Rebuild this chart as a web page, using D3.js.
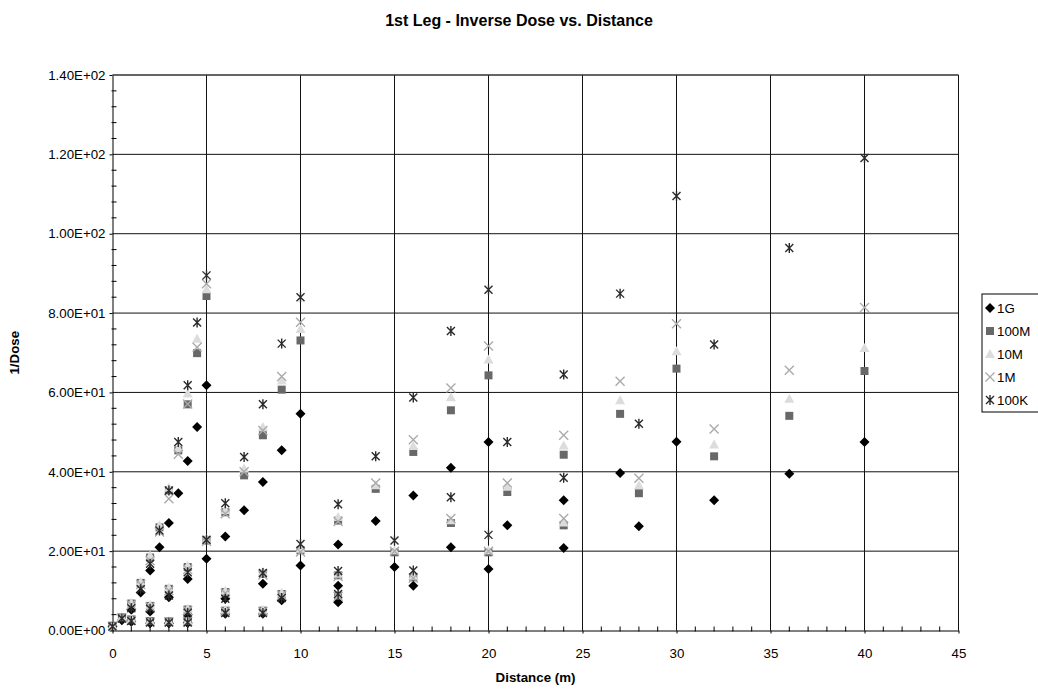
<!DOCTYPE html>
<html>
<head>
<meta charset="utf-8">
<script src="https://cdn.jsdelivr.net/npm/d3@7"></script>
<style>
  body { margin: 0; background: #fff; }
  svg { display: block; font-family: "Liberation Sans", Arial, Helvetica, sans-serif; }
</style>
</head>
<body>
<svg id="chart" width="1038" height="690"></svg>
<script>
// Measurement sweeps, listed one after another (distance in metres).
const distances = [
  0, 0.5, 1, 1.5, 2, 2.5, 3, 3.5, 4, 4.5, 5,
  5, 6, 7, 8, 9, 10,
  10, 12, 14, 16, 18, 20,
  15, 18, 21, 24, 27, 30,
  20, 24, 28, 32, 36, 40,
  1, 2, 3, 4,
  2, 4, 6, 8,
  3, 6, 9, 12,
  4, 8, 12, 16
];

// 1/Dose for each frequency, aligned with distances.
const inv1G = [
  1.0, 2.6, 5.2, 9.6, 15.1, 21.0, 27.1, 34.6, 42.7, 51.3, 61.8,
  18.1, 23.7, 30.3, 37.4, 45.4, 54.6,
  16.4, 21.7, 27.6, 34.0, 41.0, 47.5,
  16.0, 21.0, 26.5, 32.8, 39.7, 47.6,
  15.5, 20.8, 26.3, 32.8, 39.5, 47.5,
  2.2, 4.8, 8.4, 13.0,
  1.8, 4.0, 8.0, 11.8,
  1.8, 4.2, 7.6, 11.3,
  1.9, 4.2, 7.1, 11.3
];
const inv100M = [
  1.2, 3.3, 6.8, 12.0, 18.4, 26.0, 35.3, 45.4, 57.0, 69.9, 84.3,
  22.7, 29.8, 39.1, 49.2, 60.7, 73.1,
  20.2, 27.7, 35.7, 45.0, 55.5, 64.3,
  19.7, 27.1, 34.9, 44.3, 54.6, 66.0,
  19.7, 26.5, 34.6, 43.9, 54.1, 65.4,
  2.8, 6.2, 10.5, 16.0,
  2.4, 5.3, 9.7, 14.3,
  2.3, 5.0, 9.2, 13.9,
  2.4, 5.0, 8.8, 13.4
];
const inv10M = [
  1.2, 3.4, 7.0, 12.3, 18.9, 26.5, 36.0, 46.0, 59.7, 73.5, 86.0,
  23.0, 30.4, 40.8, 51.3, 63.0, 76.0,
  20.6, 28.6, 36.6, 46.5, 58.8, 68.3,
  20.2, 27.8, 36.2, 46.6, 58.0, 70.4,
  20.2, 27.2, 36.6, 46.9, 58.4, 71.2,
  2.9, 6.4, 10.8, 16.4,
  2.5, 5.5, 10.0, 14.8,
  2.4, 5.2, 9.5, 14.3,
  2.5, 5.2, 9.1, 13.8
];
const inv1M = [
  1.1, 3.2, 6.5, 11.6, 17.6, 24.8, 33.2, 44.4, 57.1, 71.4, 87.4,
  22.5, 29.4, 40.0, 50.4, 64.0, 77.7,
  19.8, 27.5, 37.2, 48.1, 61.1, 71.7,
  20.0, 28.2, 37.2, 49.2, 62.8, 77.3,
  20.0, 28.2, 38.4, 50.8, 65.6, 81.4,
  2.6, 5.9, 10.0, 15.4,
  2.2, 5.0, 9.4, 14.0,
  2.2, 4.8, 8.9, 13.6,
  2.2, 4.8, 8.6, 13.2
];
const inv100K = [
  1.0, 3.0, 5.6, 10.4, 16.8, 25.2, 35.3, 47.5, 61.8, 77.6, 89.5,
  22.9, 32.1, 43.7, 57.0, 72.3, 84.0,
  21.8, 31.8, 43.9, 58.7, 75.5, 85.9,
  22.7, 33.6, 47.5, 64.5, 84.9, 109.5,
  24.1, 38.5, 52.1, 72.1, 96.4, 119.1,
  2.4, 5.5, 8.8, 14.7,
  2.0, 4.5, 8.0, 14.5,
  2.0, 4.4, 8.2, 15.0,
  2.0, 4.4, 9.2, 15.1
];

const seriesNames = ["1G", "100M", "10M", "1M", "100K"];
const seriesValues = [inv1G, inv100M, inv10M, inv1M, inv100K];

const xTicks = [0, 5, 10, 15, 20, 25, 30, 35, 40, 45];
const yTicks = [0, 20, 40, 60, 80, 100, 120, 140];

const titleText = "1st Leg - Inverse Dose vs. Distance";
const xTitle = "Distance (m)";
const yTitle = "1/Dose";

// Marker appearance per series
const markers = {
  "1G":   { path: "M0,-5L5,0L0,5L-5,0Z", fill: "#000", stroke: "none" },
  "100M": { path: "M-4,-4H4V4H-4Z", fill: "#686868", stroke: "none" },
  "10M":  { path: "M0,-5L5,4H-5Z", fill: "#dcdcdc", stroke: "none" },
  "1M":   { path: "M-4.5,-4.5L4.5,4.5M-4.5,4.5L4.5,-4.5", fill: "none", stroke: "#ababab" },
  "100K": { path: "M-4,-4L4,4M-4,4L4,-4M0,-5V5", fill: "none", stroke: "#2a2a2a" }
};

const svg = d3.select("#chart");
const W = 1038, H = 690;
svg.append("rect").attr("width", W).attr("height", H).attr("fill", "#fff");

const plot = { left: 112.5, right: 958.5, top: 75, bottom: 630.5 };
const x = d3.scaleLinear().domain([0, 45]).range([plot.left, plot.right]);
const y = d3.scaleLinear().domain([0, 140]).range([plot.bottom, plot.top]);

const fmtSci = v => {
  const [m, e] = v.toExponential(2).split("e");
  const n = Math.abs(+e);
  return m + "E" + (+e < 0 ? "-" : "+") + (n < 10 ? "0" + n : "" + n);
};

// Gridlines
const grid = svg.append("g").attr("stroke", "#111").attr("stroke-width", 1);
grid.selectAll("line.h").data(yTicks.filter(v => v > 0)).join("line")
  .attr("x1", plot.left).attr("x2", plot.right)
  .attr("y1", d => y(d)).attr("y2", d => y(d));
grid.selectAll("line.v").data(xTicks.filter(v => v > 0)).join("line")
  .attr("y1", plot.top).attr("y2", plot.bottom)
  .attr("x1", d => x(d)).attr("x2", d => x(d));

// Minor ticks
const minorX = d3.range(1, 45).filter(v => v % 5 !== 0);
const minorY = d3.range(4, 140, 4).filter(v => v % 20 !== 0);
svg.append("g").attr("stroke", "#000").selectAll("line").data(minorX).join("line")
  .attr("x1", d => x(d)).attr("x2", d => x(d))
  .attr("y1", plot.bottom + 1).attr("y2", plot.bottom - 4);
svg.append("g").attr("stroke", "#000").selectAll("line").data(minorY).join("line")
  .attr("y1", d => y(d)).attr("y2", d => y(d))
  .attr("x1", plot.left - 1).attr("x2", plot.left + 4);

// Axes
const yAxis = svg.append("g").attr("transform", `translate(${plot.left},0)`)
  .call(d3.axisLeft(y).tickValues(yTicks).tickFormat(fmtSci).tickSizeInner(3).tickSizeOuter(0).tickPadding(4));
const xAxis = svg.append("g").attr("transform", `translate(0,${plot.bottom})`)
  .call(d3.axisBottom(x).tickValues(xTicks).tickFormat(d3.format("d")).tickSizeInner(3).tickSizeOuter(0).tickPadding(15));
[yAxis, xAxis].forEach(a => {
  a.select(".domain").attr("stroke", "#000");
  a.selectAll(".tick line").attr("stroke", "#000");
  a.selectAll("text").attr("font-family", "'Liberation Sans', Arial, sans-serif")
    .attr("font-size", "13.3px").attr("fill", "#000");
});

// Top border
svg.append("line").attr("x1", plot.left).attr("x2", plot.right)
  .attr("y1", plot.top).attr("y2", plot.top).attr("stroke", "#444");

// Points, drawn series by series so later series sit on top
seriesNames.forEach((name, si) => {
  const mk = markers[name];
  const pts = distances.map((d, i) => ({ d, v: seriesValues[si][i] }));
  svg.append("g").selectAll("path").data(pts).join("path")
    .attr("d", mk.path)
    .attr("transform", p => `translate(${x(p.d)},${y(p.v)})`)
    .attr("fill", mk.fill)
    .attr("stroke", mk.stroke)
    .attr("stroke-width", 1.4);
});

// Title and axis titles
svg.append("text").attr("x", W / 2).attr("y", 26).attr("text-anchor", "middle")
  .attr("font-size", "16px").attr("font-weight", "bold").text(titleText);
svg.append("text").attr("x", (plot.left + plot.right) / 2).attr("y", 682)
  .attr("text-anchor", "middle").attr("font-size", "13.3px").attr("font-weight", "bold").text(xTitle);
svg.append("text").attr("transform", `translate(19,${(plot.top + plot.bottom) / 2}) rotate(-90)`)
  .attr("text-anchor", "middle").attr("font-size", "13.3px").attr("font-weight", "bold").text(yTitle);

// Legend
const legendRow = 23;
const legend = svg.append("g").attr("transform", "translate(982,294)");
legend.append("rect").attr("width", 80).attr("height", seriesNames.length * legendRow + 3)
  .attr("fill", "#fff").attr("stroke", "#000");
seriesNames.forEach((name, i) => {
  const mk = markers[name];
  const row = legend.append("g").attr("transform", `translate(0,${14 + i * legendRow})`);
  row.append("path").attr("d", mk.path).attr("transform", "translate(8,0)")
    .attr("fill", mk.fill).attr("stroke", mk.stroke).attr("stroke-width", 1.4);
  row.append("text").attr("x", 15).attr("y", 5).attr("font-size", "13.3px").text(name);
});
</script>
</body>
</html>
